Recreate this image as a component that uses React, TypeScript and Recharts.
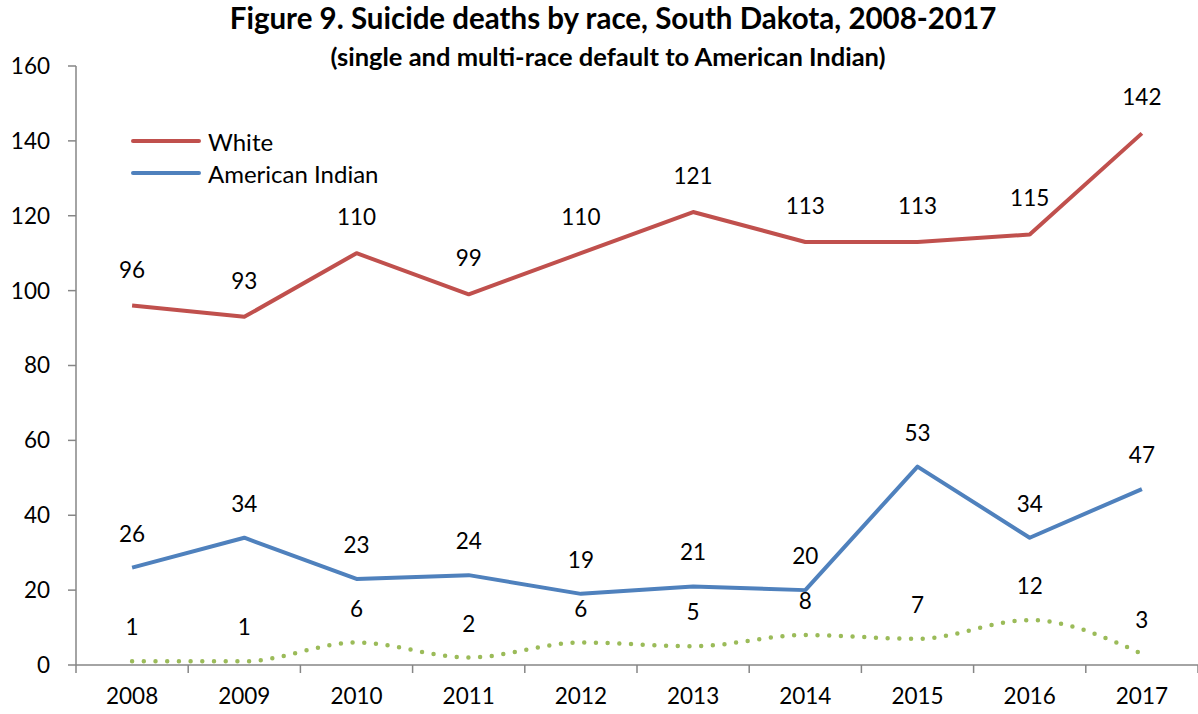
import { LineChart, Line, XAxis, YAxis, LabelList } from 'recharts';

const years = ['2008', '2009', '2010', '2011', '2012', '2013', '2014', '2015', '2016', '2017'];
const white = [96, 93, 110, 99, 110, 121, 113, 113, 115, 142];
const americanIndian = [26, 34, 23, 24, 19, 21, 20, 53, 34, 47];
const other = [1, 1, 6, 2, 6, 5, 8, 7, 12, 3];
const yTicks = [0, 20, 40, 60, 80, 100, 120, 140, 160];

const data = years.map((year, i) => ({
  year,
  white: white[i],
  americanIndian: americanIndian[i],
  other: other[i],
}));

const FONT = 'Lato, "Noto Sans", sans-serif';
const AXIS = '#868686';
const W = 1198;
const H = 714;
const LEFT = 76;
const BAND = (W - LEFT) / years.length;
const NUM = 22.5;

function XTick(props: any) {
  const { x, y, payload, index } = props;
  const last = index === years.length - 1;
  return (
    <g>
      <line x1={x - BAND / 2} x2={x - BAND / 2} y1={y - 8} y2={y} stroke={AXIS} strokeWidth={1.5} />
      {last && <line x1={x + BAND / 2} x2={x + BAND / 2} y1={y - 8} y2={y} stroke={AXIS} strokeWidth={1.5} />}
      <text x={x} y={y + 31} textAnchor="middle" fontSize={NUM} fill="#000" fontFamily={FONT}>
        {payload.value}
      </text>
    </g>
  );
}

const legendItems = [
  { name: 'White', color: '#C0504D' },
  { name: 'American Indian', color: '#4F81BD' },
];

export default function App() {
  return (
    <div style={{ position: 'absolute', left: 0, top: 0, width: W, height: H, background: '#fff', fontFamily: FONT }}>
      <div style={{ position: 'absolute', left: 0, width: 1226, top: 0, textAlign: 'center', fontWeight: 700, fontSize: 29.5 }}>
        Figure 9. Suicide deaths by race, South Dakota, 2008-2017
      </div>
      <div style={{ position: 'absolute', left: 0, width: 1216, top: 41, textAlign: 'center', fontWeight: 700, fontSize: 25.5 }}>
        (single and multi-race default to American Indian)
      </div>
      <div style={{ position: 'absolute', left: 131, top: 125, fontSize: 24, zIndex: 2 }}>
        {legendItems.map((it) => (
          <div key={it.name} style={{ display: 'flex', alignItems: 'center', height: 32 }}>
            <span style={{ display: 'inline-block', width: 70, height: 4, background: it.color, borderRadius: 2, marginRight: 7 }} />
            <span>{it.name}</span>
          </div>
        ))}
      </div>
      <LineChart width={W} height={H} data={data} margin={{ top: 66, right: 0, bottom: 0, left: 0 }}>
        <XAxis
          dataKey="year"
          scale="band"
          stroke={AXIS}
          strokeWidth={1.5}
          tickLine={false}
          tick={<XTick />}
          interval={0}
          height={49}
        />
        <YAxis
          domain={[0, 160]}
          ticks={yTicks}
          width={LEFT}
          stroke={AXIS}
          strokeWidth={1.5}
          tickSize={8}
          tick={{ fill: '#000', fontSize: NUM, fontFamily: FONT }}
          tickMargin={18}
        />
        <Line dataKey="white" stroke="#C0504D" strokeWidth={4} dot={false} isAnimationActive={false} strokeLinejoin="round">
          <LabelList dataKey="white" position="top" offset={28} fill="#000" fontSize={NUM} fontFamily={FONT} />
        </Line>
        <Line dataKey="americanIndian" stroke="#4F81BD" strokeWidth={4} dot={false} isAnimationActive={false} strokeLinejoin="round">
          <LabelList dataKey="americanIndian" position="top" offset={26} fill="#000" fontSize={NUM} fontFamily={FONT} />
        </Line>
        <Line
          dataKey="other"
          type="monotone"
          stroke="#9BBB59"
          strokeWidth={4.5}
          strokeDasharray="0 11.7"
          strokeLinecap="round"
          dot={false}
          isAnimationActive={false}
        >
          <LabelList dataKey="other" position="top" offset={26} fill="#000" fontSize={NUM} fontFamily={FONT} />
        </Line>
      </LineChart>
    </div>
  );
}
